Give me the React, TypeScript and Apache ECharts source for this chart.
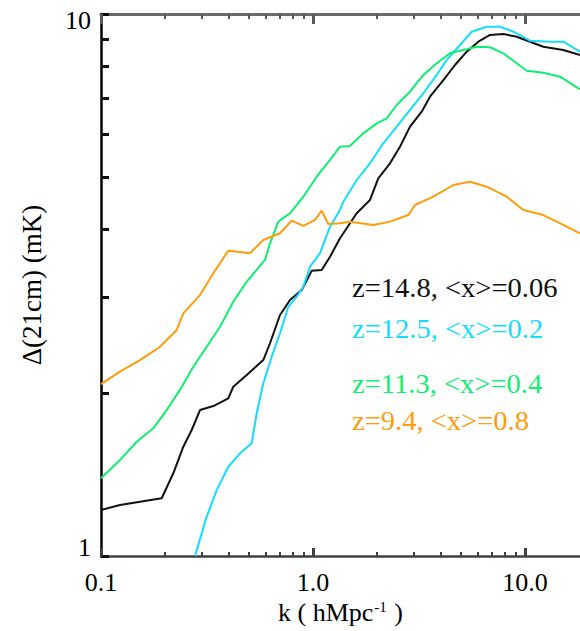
import { useEffect, useRef } from "react";
import * as echarts from "echarts";

// Axis ranges (log-log)
const K_MIN = 0.1;
const K_MAX = 18.17;
const T_MIN = 1;
const T_MAX = 10;

const xMajorTicks = [0.1, 1, 10];
const xMinorTicks = [0.2, 0.3, 0.4, 0.5, 0.6, 0.7, 0.8, 0.9, 2, 3, 4, 5, 6, 7, 8, 9];
const yTicks = [1, 2, 3, 4, 5, 6, 7, 8, 9, 10];
const yLabelTicks = [1, 10];

const seriesNames = ["z=14.8, <x>=0.06", "z=12.5, <x>=0.2", "z=11.3, <x>=0.4", "z=9.4, <x>=0.8"];
const seriesColors = ["#111111", "#14dcff", "#10ee70", "#ff9c0a"];

// [k (h/Mpc), delta_21cm (mK)]
const z148: [number, number][] = [
  [0.1, 1.216], [0.1229, 1.242], [0.1528, 1.259], [0.1933, 1.278], [0.2193, 1.421],
  [0.2445, 1.591], [0.2678, 1.708], [0.2931, 1.859], [0.3386, 1.891], [0.3986, 1.954],
  [0.4208, 2.053], [0.4867, 2.157], [0.5828, 2.299], [0.6269, 2.469], [0.6988, 2.784],
  [0.7789, 2.967], [0.8845, 3.096], [0.986, 3.36], [1.099, 3.371], [1.203, 3.566],
  [1.341, 3.856], [1.442, 4.024], [1.607, 4.289], [1.857, 4.538], [2.032, 4.976],
  [2.308, 5.303], [2.572, 5.691], [2.868, 6.196], [3.256, 6.603], [3.563, 7.038],
  [4.119, 7.553], [4.675, 8.052], [5.309, 8.521], [6.023, 8.89], [6.838, 9.147],
  [7.899, 9.186], [9.139, 9.081], [10.56, 8.89], [12.2, 8.703], [15.16, 8.581],
  [18.17, 8.401],
];

const z125: [number, number][] = [
  [0.2776, 1.0], [0.3152, 1.182], [0.3515, 1.323], [0.3986, 1.461], [0.4525, 1.547],
  [0.5138, 1.614], [0.5425, 1.834], [0.5828, 2.083], [0.6386, 2.332], [0.6988, 2.576],
  [0.7646, 2.884], [0.8377, 3.009], [0.9, 3.139], [0.968, 3.418], [1.079, 3.618],
  [1.203, 4.052], [1.341, 4.349], [1.39, 4.505], [1.607, 4.94], [1.857, 5.303],
  [2.146, 5.773], [2.482, 6.196], [2.868, 6.651], [3.314, 7.141], [3.833, 7.719],
  [4.272, 8.228], [4.935, 8.766], [5.606, 9.276], [6.597, 9.475], [7.622, 9.475],
  [8.808, 9.276], [10.56, 8.927], [13.12, 8.89], [15.16, 8.89], [18.17, 8.521],
];

const z113: [number, number][] = [
  [0.1, 1.391], [0.1229, 1.503], [0.1474, 1.625], [0.1765, 1.72], [0.2041, 1.859],
  [0.2358, 2.025], [0.2725, 2.235], [0.3152, 2.433], [0.3642, 2.649], [0.4208, 2.946],
  [0.4867, 3.207], [0.5937, 3.517], [0.6269, 3.775], [0.6861, 4.139], [0.7789, 4.289],
  [0.8377, 4.442], [0.9, 4.602], [1.041, 5.01], [1.203, 5.379], [1.341, 5.691],
  [1.494, 5.706], [1.727, 6.023], [1.998, 6.284], [2.227, 6.42], [2.482, 6.794],
  [2.868, 7.189], [3.314, 7.719], [3.833, 8.11], [4.428, 8.462], [5.117, 8.581],
  [5.918, 8.703], [6.838, 8.682], [7.899, 8.462], [9.139, 8.11], [10.19, 7.86],
  [12.2, 7.793], [14.63, 7.661], [18.17, 7.261],
];

const z94: [number, number][] = [
  [0.1, 2.076], [0.1229, 2.188], [0.1528, 2.299], [0.1898, 2.433], [0.2275, 2.612],
  [0.2445, 2.804], [0.2931, 3.03], [0.3386, 3.324], [0.3986, 3.659], [0.5044, 3.618],
  [0.5828, 3.828], [0.6988, 3.939], [0.7935, 4.156], [0.9, 4.065], [1.022, 4.169],
  [1.099, 4.336], [1.181, 4.099], [1.341, 4.111], [1.494, 4.139], [1.925, 4.081],
  [2.308, 4.139], [2.816, 4.257], [3.028, 4.442], [3.694, 4.602], [4.589, 4.836],
  [5.504, 4.905], [6.597, 4.802], [8.199, 4.602], [9.818, 4.349], [12.2, 4.257],
  [15.16, 4.081], [18.17, 3.939],
];

const seriesData = [z148, z125, z113, z94];

const SERIF = "'Liberation Serif', 'DejaVu Serif', serif";

export default function App() {
  const ref = useRef<HTMLDivElement>(null);

  useEffect(() => {
    if (!ref.current) return;
    const chart = echarts.init(ref.current, undefined, { renderer: "svg" });

    const gridLeft = 101;
    const gridTop = 14;
    const gridRight = 0;
    const gridBottom = 75;

    const baseX = {
      type: "log" as const,
      logBase: 10,
      min: K_MIN,
      max: K_MAX,
      gridIndex: 0,
      splitLine: { show: false },
    };
    const baseY = {
      type: "log" as const,
      logBase: 10,
      min: T_MIN,
      max: T_MAX,
      gridIndex: 0,
      splitLine: { show: false },
    };

    chart.setOption({
      animation: false,
      backgroundColor: "#ffffff",
      grid: { left: gridLeft, top: gridTop, right: gridRight, bottom: gridBottom, containLabel: false },
      xAxis: [
        {
          ...baseX,
          position: "bottom",
          name: "k ( hMpc{sup|-1} )",
          nameLocation: "middle",
          nameGap: 42,
          nameTextStyle: {
            fontFamily: SERIF,
            fontSize: 26,
            color: "#000",
            rich: {
              sup: { fontFamily: SERIF, fontSize: 15, color: "#000", verticalAlign: "top", padding: [0, 1, 0, 1] },
            },
          },
          axisLine: { show: true, lineStyle: { color: "#404040", width: 2.5 } },
          axisTick: { show: true, inside: true, length: 8, customValues: xMajorTicks, lineStyle: { color: "#404040", width: 3 } },
          axisLabel: {
            show: true,
            customValues: xMajorTicks,
            margin: 13,
            fontFamily: SERIF,
            fontSize: 26,
            color: "#000",
            formatter: (v: number) => v.toFixed(1),
          },
        },
        {
          ...baseX,
          position: "bottom",
          axisLine: { show: false },
          axisTick: { show: true, inside: true, length: 4, customValues: xMinorTicks, lineStyle: { color: "#404040", width: 2 } },
          axisLabel: { show: false },
        },
        {
          ...baseX,
          position: "top",
          axisLine: { show: true, lineStyle: { color: "#6a6a6a", width: 3 } },
          axisTick: { show: true, inside: true, length: 10, customValues: xMajorTicks, lineStyle: { color: "#5a5a5a", width: 3 } },
          axisLabel: { show: false },
        },
        {
          ...baseX,
          position: "top",
          axisLine: { show: false },
          axisTick: { show: true, inside: true, length: 5, customValues: xMinorTicks, lineStyle: { color: "#555", width: 2 } },
          axisLabel: { show: false },
        },
      ],
      yAxis: [
        {
          ...baseY,
          position: "left",
          name: "\u0394(21cm) (mK)",
          nameLocation: "middle",
          nameGap: 56,
          nameTextStyle: { fontFamily: SERIF, fontSize: 27, color: "#000" },
          axisLine: { show: true, lineStyle: { color: "#000", width: 2.5 } },
          axisTick: { show: true, inside: true, length: 8, customValues: yTicks, lineStyle: { color: "#111", width: 3 } },
          axisLabel: {
            show: true,
            customValues: yLabelTicks,
            margin: 10,
            fontFamily: SERIF,
            fontSize: 26,
            color: "#000",
            formatter: (v: number) => (Math.round(v) === 10 ? "{top|10}" : "{bot|1}"),
            rich: {
              top: { fontFamily: SERIF, fontSize: 26, color: "#000", padding: [12, 0, 0, 0] },
              bot: { fontFamily: SERIF, fontSize: 26, color: "#000", padding: [0, 0, 18, 0] },
            },
          },
        },
      ],
      series: seriesData.map((d, i) => ({
        type: "line",
        name: seriesNames[i],
        data: d,
        xAxisIndex: 0,
        yAxisIndex: 0,
        showSymbol: false,
        symbol: "none",
        clip: true,
        lineStyle: { color: seriesColors[i], width: 2 },
        z: 2 + i,
      })),
      graphic: seriesNames.map((name, i) => ({
        type: "text",
        x: 352,
        y: [274, 315, 370, 407][i],
        scaleX: 1.02,
        style: {
          text: name,
          fill: seriesColors[i],
          font: `28px ${SERIF}`,
        },
      })),
    });

    return () => chart.dispose();
  }, []);

  return (
    <div
      ref={ref}
      style={{ position: "fixed", left: 0, top: 0, width: 580, height: 631, background: "#fff" }}
    />
  );
}
